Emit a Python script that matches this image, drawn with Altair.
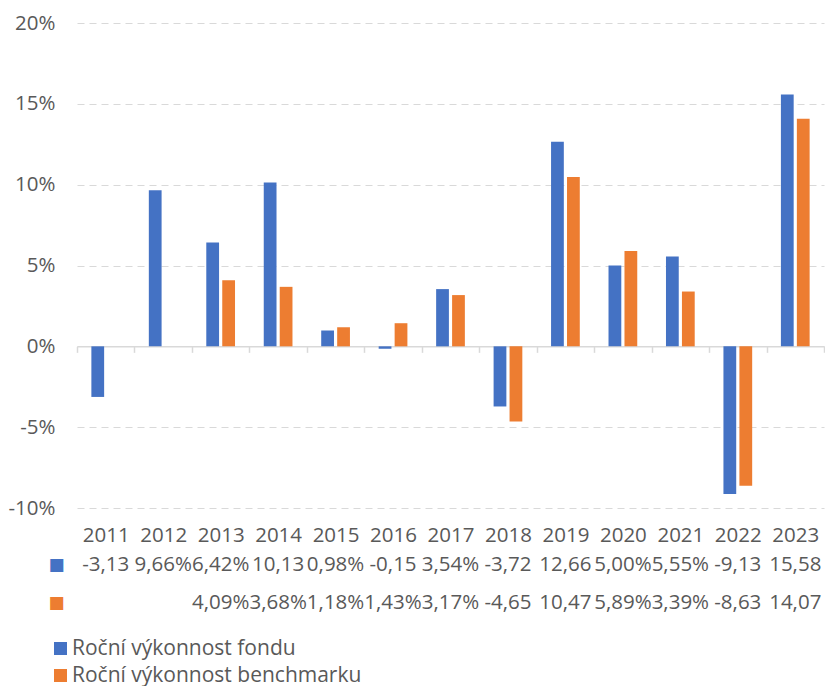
import altair as alt
import pandas as pd

years = ["2011", "2012", "2013", "2014", "2015", "2016", "2017",
         "2018", "2019", "2020", "2021", "2022", "2023"]
fund = [-3.13, 9.66, 6.42, 10.13, 0.98, -0.15, 3.54, -3.72, 12.66, 5.00, 5.55, -9.13, 15.58]
bench = [None, None, 4.09, 3.68, 1.18, 1.43, 3.17, -4.65, 10.47, 5.89, 3.39, -8.63, 14.07]
fund_labels = ["-3,13", "9,66%", "6,42%", "10,13", "0,98%", "-0,15", "3,54%",
               "-3,72", "12,66", "5,00%", "5,55%", "-9,13", "15,58"]
bench_labels = ["", "", "4,09%", "3,68%", "1,18%", "1,43%", "3,17%",
                "-4,65", "10,47", "5,89%", "3,39%", "-8,63", "14,07"]
series = ["Roční výkonnost fondu", "Roční výkonnost benchmarku"]
colors = ["#4472C4", "#ED7D31"]
y_ticks = [-10, -5, 0, 5, 10, 15, 20]

rows = []
for s, vals, labs in [(series[0], fund, fund_labels), (series[1], bench, bench_labels)]:
    for yr, v, lb in zip(years, vals, labs):
        rows.append({"year": yr, "series": s, "value": v, "label": lb})
df = pd.DataFrame(rows)
bars_df = df[df["value"].notna()]
table_df = df[df["label"] != ""]

FONT = "Open Sans"
GREY = "#595959"
LINE = "#d9d9d9"
FS = 20.5
W, H = 747, 485
YMIN, YMAX = -10, 20
zero_offset = -H * (0 - YMIN) / (YMAX - YMIN)

x_scale = alt.Scale(domain=years, paddingInner=0, paddingOuter=0)

bars = alt.Chart(bars_df).mark_bar().encode(
    x=alt.X("year:N", sort=years, scale=x_scale,
            axis=alt.Axis(orient="bottom", offset=zero_offset, labels=False, title=None,
                          domainColor=LINE, domainWidth=1.5, tickColor=LINE, tickWidth=1.5,
                          tickSize=6, tickBand="extent", grid=False)),
    xOffset=alt.XOffset("series:N", sort=series,
                        scale=alt.Scale(domain=series, paddingInner=0.2, paddingOuter=0.9)),
    y=alt.Y("value:Q", scale=alt.Scale(domain=[YMIN, YMAX], nice=False),
            axis=alt.Axis(values=y_ticks, labelExpr="datum.value + '%'", title=None,
                          domain=False, ticks=False, gridDash=[7, 5], gridColor=LINE,
                          labelPadding=22, labelFontSize=FS, labelColor=GREY, labelFont=FONT)),
    color=alt.Color("series:N", sort=series, scale=alt.Scale(domain=series, range=colors),
                    legend=alt.Legend(title=None, orient="none", legendX=-27, legendY=615,
                                      direction="vertical", symbolType="square", symbolSize=169,
                                      symbolStrokeWidth=0, labelFontSize=21, labelColor=GREY,
                                      labelFont=FONT, rowPadding=5, padding=0, labelOffset=1,
                                      labelLimit=0)),
).properties(width=W, height=H)

table = alt.Chart(table_df).mark_text(fontSize=FS, color=GREY, font=FONT, dy=1).encode(
    x=alt.X("year:N", sort=years, scale=x_scale,
            axis=alt.Axis(orient="top", title=None, domain=False, ticks=False, labelAngle=0,
                          labelBaseline="middle", labelPadding=10, labelFontSize=FS,
                          labelColor=GREY, labelFont=FONT)),
    y=alt.Y("series:N", sort=series, scale=alt.Scale(domain=series, paddingInner=0, paddingOuter=0),
            axis=alt.Axis(title=None, domain=False, ticks=False, labelExpr="'■'",
                          labelColor={"condition": {"test": "indexof(datum.value, 'fondu') >= 0",
                                                    "value": colors[0]},
                                      "value": colors[1]},
                          labelFont="DejaVu Sans", labelFontSize=17, labelPadding=13)),
    text="label:N",
).properties(width=W, height=76)

chart = alt.vconcat(bars, table, spacing=37, bounds="flush").resolve_scale(
    x="independent", y="independent"
).properties(
    padding={"left": 0, "top": 5, "right": 0, "bottom": 0},
    background="white",
).configure_view(stroke=None)

chart.save("out.html", embed_options={"renderer": "svg", "actions": False})
